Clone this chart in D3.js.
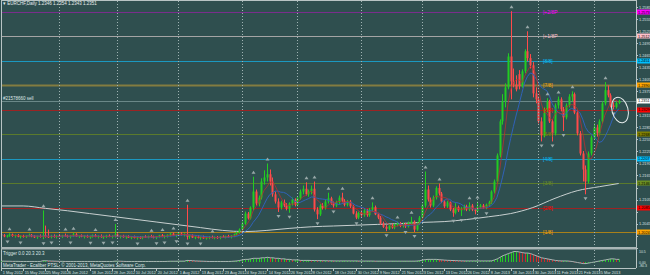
<!DOCTYPE html>
<html>
<head>
<meta charset="utf-8">
<script src="https://cdn.jsdelivr.net/npm/d3@7"></script>
<style>
  html, body { margin: 0; padding: 0; background: #2f4f4f; }
  svg { display: block; }
</style>
</head>
<body>
<div id="chart"></div>
<script>
const width = 650;
const height = 275;

// ---- data ----
// daily candles [open, high, low, close], 1 May 2012 .. 7 Mar 2013
const candles = [
  [1.2018,1.2022,1.2013,1.2016],[1.2016,1.2019,1.2011,1.2013],[1.2013,1.2017,1.2010,1.2015],[1.2015,1.2021,1.2012,1.2018],
  [1.2018,1.2020,1.2012,1.2014],[1.2014,1.2018,1.2010,1.2016],[1.2016,1.2019,1.2011,1.2012],[1.2012,1.2016,1.2008,1.2014],
  [1.2014,1.2017,1.2010,1.2012],[1.2012,1.2016,1.2009,1.2015],[1.2015,1.2020,1.2012,1.2017],[1.2017,1.2019,1.2011,1.2013],
  [1.2013,1.2016,1.2009,1.2011],[1.2011,1.2015,1.2007,1.2014],[1.2014,1.2018,1.2010,1.2012],[1.2012,1.2078,1.2006,1.2016],
  [1.2016,1.2040,1.2010,1.2013],[1.2013,1.2030,1.2009,1.2011],[1.2011,1.2017,1.2008,1.2014],[1.2014,1.2018,1.2010,1.2012],
  [1.2012,1.2016,1.2008,1.2015],[1.2015,1.2019,1.2011,1.2013],[1.2013,1.2017,1.2009,1.2016],[1.2016,1.2020,1.2012,1.2014],
  [1.2014,1.2017,1.2010,1.2012],[1.2012,1.2016,1.2008,1.2015],[1.2015,1.2022,1.2012,1.2018],[1.2018,1.2021,1.2012,1.2013],
  [1.2013,1.2016,1.2009,1.2015],[1.2015,1.2018,1.2011,1.2012],[1.2012,1.2016,1.2008,1.2014],[1.2014,1.2017,1.2010,1.2011],
  [1.2011,1.2015,1.2007,1.2013],[1.2013,1.2018,1.2010,1.2016],[1.2016,1.2019,1.2011,1.2012],[1.2012,1.2016,1.2008,1.2014],
  [1.2014,1.2018,1.2010,1.2011],[1.2011,1.2015,1.2007,1.2013],[1.2013,1.2017,1.2009,1.2015],[1.2015,1.2018,1.2011,1.2012],
  [1.2012,1.2016,1.2008,1.2014],[1.2014,1.2044,1.2010,1.2018],[1.2018,1.2021,1.2011,1.2012],[1.2012,1.2016,1.2008,1.2014],
  [1.2014,1.2017,1.2010,1.2011],[1.2011,1.2015,1.2007,1.2013],[1.2013,1.2016,1.2009,1.2010],[1.2010,1.2014,1.2006,1.2012],
  [1.2012,1.2015,1.2008,1.2009],[1.2009,1.2013,1.2005,1.2011],[1.2011,1.2014,1.2007,1.2010],[1.2010,1.2014,1.2006,1.2013],
  [1.2013,1.2016,1.2009,1.2011],[1.2011,1.2015,1.2008,1.2014],[1.2014,1.2017,1.2010,1.2012],[1.2012,1.2015,1.2008,1.2010],
  [1.2010,1.2014,1.2006,1.2013],[1.2013,1.2017,1.2010,1.2016],[1.2016,1.2019,1.2011,1.2012],[1.2012,1.2016,1.2008,1.2014],
  [1.2014,1.2018,1.2010,1.2017],[1.2017,1.2022,1.2013,1.2020],[1.2020,1.2023,1.2014,1.2015],[1.2015,1.2019,1.2011,1.2018],
  [1.2018,1.2022,1.2014,1.2020],[1.2020,1.2024,1.2015,1.2017],[1.2017,1.2021,1.2013,1.2019],[1.2019,1.2092,1.2005,1.2012],
  [1.2012,1.2018,1.2007,1.2015],[1.2015,1.2018,1.2009,1.2010],[1.2010,1.2014,1.2006,1.2012],[1.2012,1.2016,1.2008,1.2009],
  [1.2009,1.2013,1.2005,1.2011],[1.2011,1.2015,1.2007,1.2008],[1.2008,1.2012,1.2005,1.2010],[1.2010,1.2014,1.2006,1.2012],
  [1.2012,1.2015,1.2008,1.2009],[1.2009,1.2013,1.2006,1.2011],[1.2011,1.2014,1.2007,1.2010],[1.2010,1.2014,1.2006,1.2013],
  [1.2013,1.2016,1.2009,1.2011],[1.2011,1.2015,1.2008,1.2014],[1.2014,1.2017,1.2010,1.2012],[1.2012,1.2016,1.2008,1.2015],
  [1.2015,1.2020,1.2011,1.2018],[1.2018,1.2025,1.2015,1.2022],[1.2022,1.2033,1.2019,1.2030],[1.2030,1.2050,1.2026,1.2045],
  [1.2045,1.2075,1.2042,1.2070],[1.2070,1.2074,1.2055,1.2058],[1.2058,1.2088,1.2055,1.2085],[1.2085,1.2162,1.2078,1.2125],
  [1.2125,1.2130,1.2090,1.2095],[1.2095,1.2115,1.2088,1.2110],[1.2110,1.2158,1.2105,1.2150],[1.2150,1.2178,1.2142,1.2160],
  [1.2160,1.2195,1.2150,1.2168],[1.2168,1.2180,1.2140,1.2150],[1.2150,1.2160,1.2112,1.2118],[1.2118,1.2125,1.2095,1.2100],
  [1.2100,1.2108,1.2074,1.2085],[1.2085,1.2102,1.2080,1.2098],[1.2098,1.2105,1.2086,1.2090],[1.2090,1.2096,1.2078,1.2082],
  [1.2082,1.2098,1.2072,1.2095],[1.2095,1.2110,1.2090,1.2105],[1.2105,1.2108,1.2088,1.2092],[1.2092,1.2112,1.2088,1.2108],
  [1.2108,1.2130,1.2104,1.2125],[1.2125,1.2140,1.2118,1.2132],[1.2132,1.2148,1.2115,1.2118],[1.2118,1.2130,1.2112,1.2125],
  [1.2125,1.2140,1.2118,1.2132],[1.2132,1.2150,1.2075,1.2080],[1.2080,1.2086,1.2056,1.2068],[1.2068,1.2094,1.2064,1.2090],
  [1.2090,1.2096,1.2080,1.2084],[1.2084,1.2104,1.2080,1.2100],[1.2100,1.2122,1.2095,1.2108],[1.2108,1.2112,1.2092,1.2096],
  [1.2096,1.2100,1.2085,1.2090],[1.2090,1.2102,1.2086,1.2098],[1.2098,1.2115,1.2094,1.2110],[1.2110,1.2122,1.2098,1.2102],
  [1.2102,1.2106,1.2088,1.2092],[1.2092,1.2104,1.2088,1.2100],[1.2100,1.2104,1.2084,1.2088],[1.2088,1.2092,1.2068,1.2070],
  [1.2070,1.2076,1.2056,1.2060],[1.2060,1.2075,1.2056,1.2072],[1.2072,1.2078,1.2062,1.2066],[1.2066,1.2082,1.2062,1.2078],
  [1.2078,1.2082,1.2062,1.2066],[1.2066,1.2084,1.2062,1.2080],[1.2080,1.2098,1.2076,1.2086],[1.2086,1.2090,1.2066,1.2068],
  [1.2068,1.2072,1.2056,1.2060],[1.2060,1.2064,1.2042,1.2045],[1.2045,1.2050,1.2034,1.2037],[1.2037,1.2042,1.2026,1.2032],
  [1.2032,1.2044,1.2029,1.2040],[1.2040,1.2045,1.2032,1.2035],[1.2035,1.2045,1.2031,1.2042],[1.2042,1.2050,1.2038,1.2046],
  [1.2046,1.2049,1.2036,1.2039],[1.2039,1.2047,1.2035,1.2044],[1.2044,1.2047,1.2034,1.2038],[1.2038,1.2050,1.2035,1.2046],
  [1.2046,1.2062,1.2042,1.2050],[1.2050,1.2053,1.2024,1.2030],[1.2030,1.2048,1.2027,1.2045],[1.2045,1.2064,1.2042,1.2060],
  [1.2060,1.2095,1.2056,1.2090],[1.2090,1.2175,1.2085,1.2130],[1.2130,1.2140,1.2100,1.2105],[1.2105,1.2110,1.2085,1.2090],
  [1.2090,1.2115,1.2086,1.2110],[1.2110,1.2138,1.2105,1.2134],[1.2134,1.2145,1.2115,1.2120],[1.2120,1.2124,1.2096,1.2100],
  [1.2100,1.2104,1.2084,1.2088],[1.2088,1.2102,1.2084,1.2098],[1.2098,1.2100,1.2076,1.2080],[1.2080,1.2084,1.2062,1.2072],
  [1.2072,1.2096,1.2068,1.2086],[1.2086,1.2090,1.2074,1.2078],[1.2078,1.2086,1.2064,1.2082],[1.2082,1.2092,1.2078,1.2088],
  [1.2088,1.2092,1.2076,1.2080],[1.2080,1.2098,1.2076,1.2090],[1.2090,1.2094,1.2076,1.2080],[1.2080,1.2084,1.2068,1.2076],
  [1.2076,1.2100,1.2072,1.2086],[1.2086,1.2094,1.2082,1.2090],[1.2090,1.2094,1.2082,1.2085],[1.2085,1.2095,1.2081,1.2092],
  [1.2092,1.2102,1.2088,1.2098],[1.2098,1.2128,1.2094,1.2125],[1.2125,1.2155,1.2120,1.2150],[1.2150,1.2220,1.2145,1.2215],
  [1.2215,1.2305,1.2210,1.2300],[1.2300,1.2368,1.2292,1.2350],[1.2350,1.2395,1.2335,1.2385],[1.2385,1.2470,1.2380,1.2462],
  [1.2462,1.2575,1.2355,1.2400],[1.2400,1.2432,1.2385,1.2392],[1.2392,1.2415,1.2375,1.2380],[1.2418,1.2428,1.2380,1.2388],
  [1.2388,1.2430,1.2384,1.2425],[1.2425,1.2480,1.2420,1.2475],[1.2475,1.2525,1.2450,1.2458],[1.2458,1.2468,1.2432,1.2440],
  [1.2440,1.2448,1.2360,1.2370],[1.2370,1.2385,1.2345,1.2355],[1.2355,1.2362,1.2295,1.2300],[1.2300,1.2310,1.2250,1.2265],
  [1.2265,1.2335,1.2260,1.2330],[1.2330,1.2358,1.2322,1.2350],[1.2350,1.2354,1.2296,1.2300],[1.2300,1.2305,1.2250,1.2270],
  [1.2270,1.2345,1.2265,1.2340],[1.2340,1.2362,1.2332,1.2355],[1.2355,1.2360,1.2325,1.2330],[1.2330,1.2336,1.2276,1.2310],
  [1.2310,1.2345,1.2305,1.2340],[1.2340,1.2368,1.2335,1.2362],[1.2362,1.2375,1.2350,1.2368],[1.2368,1.2372,1.2318,1.2322],
  [1.2322,1.2328,1.2265,1.2270],[1.2270,1.2276,1.2215,1.2220],[1.2220,1.2226,1.2150,1.2180],[1.2180,1.2190,1.2118,1.2150],
  [1.2150,1.2225,1.2145,1.2220],[1.2220,1.2265,1.2215,1.2260],[1.2260,1.2295,1.2255,1.2285],[1.2285,1.2292,1.2262,1.2270],
  [1.2270,1.2305,1.2265,1.2300],[1.2300,1.2350,1.2295,1.2345],[1.2345,1.2398,1.2340,1.2378],[1.2378,1.2390,1.2360,1.2365],
  [1.2365,1.2370,1.2335,1.2340],[1.2340,1.2348,1.2330,1.2336],[1.2336,1.2350,1.2332,1.2346],[1.2346,1.2354,1.2343,1.2351]
];

// long moving average (white), read every 8 bars
const longMaBars = [0,8,16,24,32,40,48,56,64,72,80,88,96,104,112,120,128,136,144,152,160,168,176,184,192,200,208,216,223];
const longMaValues = [1.2089,1.2089,1.2083,1.2077,1.2070,1.2063,1.2056,1.2049,1.2042,1.2035,1.2028,1.2025,1.2028,1.2033,
  1.2037,1.2039,1.2041,1.2043,1.2045,1.2048,1.2050,1.2055,1.2062,1.2070,1.2085,1.2108,1.2127,1.2137,1.2145];

// sub-window "Trigger" histogram
const trigger = [
  0.8,0.8,0.7,0.7,0.6,0.6,0.6,0.5,0.5,0.5, 0.5,0.5,0.5,0.5,0.5,1.2,1.2,1,0.9,0.8,
  0.7,0.6,0.6,0.5,0.5,0.5,0.5,0.5,0.5,0.5, 0.5,0.5,0.5,0.5,0.5,0.5,0.5,0.5,0.5,0.5,
  0.5,0.8,0.8,0.7,0.6,0.5,0.5,0.5,0.5,0.5, 0.5,0.5,0.5,0.5,0.5,0.5,0.5,0.5,0.5,0.5,
  0.6,0.7,0.7,0.7,0.8,0.8,0.8,1.5,1.4,1.2, 1,0.9,0.8,0.7,0.6,0.5,0.5,0.5,0.5,0.5,
  0.5,0.5,0.5,0.6,
  0.8,1,1.5,2,2.5,2.5,3,3.5,3.5,3.5, 4,4,4.5,4,4,3.5,3.5,3,3,2.5, 2.5,2,2,2,1.5,1.5,1.5,
  1.5,1.4,1.4,1.3,1.3,1.2,1.2,1.1,1.1,1, 1,1,1,1,1,1,1,1,0.9,0.9,
  0.9,0.9,0.9,0.9,0.8,0.8,0.8,0.8,0.8,0.8, 0.8,0.8,0.8,0.8,0.8,0.8,0.8,0.8,0.8,0.9,
  1.2,1.8,2.3,2.5,2.5,2.5,2.5,2.2,2,1.8, 1.6,1.5,1.4,1.3,1.2,1.1,1,1,1,1, 1,1,1,1,1,1,1.1,
  2,3,4.5,6,7,8,9,10,10,9.5, 9,8.5,8.5,8,7,6,5,4,3.5,3, 2.5,2,1.5,1.2,1,1,1,0.8,
  0.5,0,-0.5,-1,-1.5,-1.5,-1,-0.5,0,0.5, 1,1.5,2,2.5,3,3,2.5,2.5
];

// Murrey math levels
const levelNames  = ["|+2/8P", "|+1/8P", "[8/8]", "[7/8]", "[6/8]", "[5/8]", "[4/8]", "[3/8]", "[2/8]", "[1/8]"];
const levelPrices = [1.2573, 1.2512, 1.2451, 1.2390, 1.2329, 1.2268, 1.2207, 1.2146, 1.2085, 1.2024];
const levelLineColors = ["#7a2e8c", "#a4a4a4", "#1b98c0", "#837c40", "#9c2323", "#5a7a2c", "#1b98c0", "#5a7a2c", "#9c2323", "#a8801a"];
const levelTagColors  = ["#ff00ff", "#ffc0cb", "#00bfff", "#ffa500", "#ff0000", "#808000", "#00bfff", "#6b8e23", "#ff0000", "#ffa500"];

const priceTicks = [1.2585,1.2555,1.2525,1.2495,1.2465,1.2435,1.2405,1.2375,1.2345,1.2315,1.2285,
  1.2255,1.2225,1.2195,1.2165,1.2135,1.2105,1.2075,1.2045,1.2015,1.1985];

const dateLabels = ["1 May 2012","15 May 2012","25 May 2012","6 Jun 2012","18 Jun 2012","28 Jun 2012","10 Jul 2012",
  "20 Jul 2012","1 Aug 2012","13 Aug 2012","23 Aug 2012","4 Sep 2012","14 Sep 2012","26 Sep 2012","8 Oct 2012",
  "18 Oct 2012","30 Oct 2012","9 Nov 2012","21 Nov 2012","3 Dec 2012","13 Dec 2012","26 Dec 2012","8 Jan 2013",
  "18 Jan 2013","30 Jan 2013","11 Feb 2013","21 Feb 2013","5 Mar 2013"];
const monthStarts = [21, 42, 64, 87, 107, 130, 152, 172, 194, 214];

const subLabels = ["10.5", "0.00", "-80.3"];
const subLabelValues = [10, 0, -3.5];

const orderLabel = "#21578660 sell";
const orderPrice = 1.2351;

// ---- layout ----
const plotRight = 636;
const mainBottom = 247;
const subBottom = 268;

const svg = d3.select("#chart").append("svg")
  .attr("width", width).attr("height", height)
  .style("font-family", "'Liberation Sans', Arial, sans-serif");

svg.append("rect").attr("width", width).attr("height", height).attr("fill", "#2f4f4f");

const x = d3.scaleLinear().domain([0, 229]).range([1, 1 + 2.77 * 229]);
const y = d3.scaleLinear().domain([1.2024, 1.2573]).range([232, 12]);
const yT = d3.scaleLinear().domain([0, 10]).range([262, 251.5]);

svg.append("clipPath").attr("id", "mainClip")
  .append("rect").attr("x", 2).attr("y", 0).attr("width", plotRight - 2).attr("height", mainBottom);

const main = svg.append("g").attr("clip-path", "url(#mainClip)");

// month separators
svg.selectAll(".vgrid").data(monthStarts).enter().append("line")
  .attr("x1", d => Math.round(x(d)) + 0.5).attr("x2", d => Math.round(x(d)) + 0.5)
  .attr("y1", 1).attr("y2", subBottom)
  .attr("stroke", "#9fb3b3").attr("stroke-width", 1).attr("stroke-dasharray", "1,2");

// Murrey lines
levelPrices.forEach((p, i) => {
  main.append("line")
    .attr("x1", 2).attr("x2", plotRight)
    .attr("y1", Math.round(y(p)) + 0.5).attr("y2", Math.round(y(p)) + 0.5)
    .attr("stroke", levelLineColors[i])
    .attr("stroke-width", i === 3 ? 2 : 1);
});

// order line
main.append("line")
  .attr("x1", 2).attr("x2", plotRight)
  .attr("y1", Math.round(y(orderPrice)) + 0.5).attr("y2", Math.round(y(orderPrice)) + 0.5)
  .attr("stroke", "#6a8888").attr("stroke-width", 1);
svg.append("text").attr("x", 3).attr("y", Math.round(y(orderPrice)) - 1)
  .attr("font-size", 4.5).attr("fill", "#dfe8e8").text(orderLabel);

// moving averages
const closes = candles.map(d => d[3]);
function sma(period) {
  return closes.map((c, i) => i < period - 1 ? null : d3.mean(closes.slice(i - period + 1, i + 1)));
}
const maLine = d3.line().defined(d => d[1] != null).x(d => x(d[0])).y(d => y(d[1]));

main.append("path")
  .attr("d", d3.line().curve(d3.curveMonotoneX).x((d, i) => x(longMaBars[i])).y(d => y(d))(longMaValues))
  .attr("fill", "none").attr("stroke", "#c8d0d0").attr("stroke-width", 1);

// candles
const bull = "#22cc22", bear = "#ff4a4a";
const cg = main.append("g");
candles.forEach((c, i) => {
  const [o, h, l, cl] = c;
  const col = cl >= o ? bull : bear;
  const cx = Math.round(x(i));
  cg.append("line")
    .attr("x1", cx + 0.5).attr("x2", cx + 0.5)
    .attr("y1", y(h)).attr("y2", y(l))
    .attr("stroke", col).attr("stroke-width", 1);
  const top = y(Math.max(o, cl)), bot = y(Math.min(o, cl));
  cg.append("rect")
    .attr("x", cx - 0.5).attr("y", top)
    .attr("width", 2).attr("height", Math.max(1, bot - top))
    .attr("fill", col);
});

main.append("path").datum(sma(10).map((v, i) => [i, v]))
  .attr("d", maLine).attr("fill", "none").attr("stroke", "#2f62b8").attr("stroke-width", 1);
main.append("path").datum(sma(5).map((v, i) => [i, v]))
  .attr("d", maLine).attr("fill", "none").attr("stroke", "#b83030").attr("stroke-width", 0.8);

// fractals
const highs = candles.map(d => d[1]), lows = candles.map(d => d[2]);
const ups = [], downs = [];
for (let i = 2; i < candles.length - 2; i++) {
  if (highs[i] > highs[i - 1] && highs[i] > highs[i - 2] && highs[i] >= highs[i + 1] && highs[i] >= highs[i + 2]) ups.push(i);
  if (lows[i] < lows[i - 1] && lows[i] < lows[i - 2] && lows[i] <= lows[i + 1] && lows[i] <= lows[i + 2]) downs.push(i);
}
main.selectAll(".fup").data(ups).enter().append("path")
  .attr("d", i => {
    const cx = Math.round(x(i)) + 0.5, yy = y(highs[i]) - 3;
    return `M${cx - 2},${yy} L${cx},${yy - 3} L${cx + 2},${yy} Z`;
  })
  .attr("fill", "#98a8a8");
main.selectAll(".fdn").data(downs).enter().append("path")
  .attr("d", i => {
    const cx = Math.round(x(i)) + 0.5, yy = y(lows[i]) + 3;
    return `M${cx - 2},${yy} L${cx},${yy + 3} L${cx + 2},${yy} Z`;
  })
  .attr("fill", "#98a8a8");

// Murrey labels inside chart
levelPrices.forEach((p, i) => {
  main.append("text")
    .attr("x", 543).attr("y", y(p) + 2)
    .attr("font-size", 5).attr("fill", levelTagColors[i])
    .text(levelNames[i]);
});

// hand drawn ellipse
main.append("ellipse")
  .attr("cx", 620).attr("cy", 110).attr("rx", 8).attr("ry", 13)
  .attr("transform", "rotate(-15,620,110)")
  .attr("fill", "none").attr("stroke", "#e8eeee").attr("stroke-width", 1);

// header
const last = candles[candles.length - 1];
svg.append("text").attr("x", 3).attr("y", 5)
  .attr("font-size", 4.5).attr("fill", "#e8eeee")
  .text(`▾ EURCHF,Daily  ${last.map(v => v.toFixed(4)).join(" ")}`);

// frame
svg.append("line").attr("x1", 1.5).attr("x2", 1.5).attr("y1", 0).attr("y2", subBottom).attr("stroke", "#b8c4c4");
svg.append("line").attr("x1", 1).attr("x2", plotRight).attr("y1", 0.5).attr("y2", 0.5).attr("stroke", "#b8c4c4");
svg.append("line").attr("x1", plotRight + 0.5).attr("x2", plotRight + 0.5).attr("y1", 0).attr("y2", subBottom).attr("stroke", "#b8c4c4");
svg.append("rect").attr("x", 1).attr("y", mainBottom).attr("width", plotRight).attr("height", 2.5).attr("fill", "#aab6b6");
svg.append("line").attr("x1", 1).attr("x2", plotRight).attr("y1", subBottom + 0.5).attr("y2", subBottom + 0.5).attr("stroke", "#b8c4c4");

// price axis (tick labels hidden where a level tag sits)
const tags = levelPrices.map((p, i) => ({ p, col: levelTagColors[i] }))
  .concat([{ p: orderPrice, col: "#ffffff" }]);
const freeTicks = priceTicks.filter(t => tags.every(g => Math.abs(y(g.p) - y(t)) > 4.5) && y(t) < mainBottom - 2);
svg.selectAll(".ptick").data(freeTicks).enter().append("text")
  .attr("x", 639).attr("y", d => y(d) + 1.5)
  .attr("font-size", 3.8).attr("fill", "#d8e0e0")
  .text(d => d.toFixed(4));
svg.selectAll(".ptickm").data(priceTicks).enter().append("line")
  .attr("x1", plotRight).attr("x2", plotRight + 2)
  .attr("y1", d => Math.round(y(d)) + 0.5).attr("y2", d => Math.round(y(d)) + 0.5)
  .attr("stroke", "#b8c4c4");

tags.forEach(t => {
  svg.append("rect").attr("x", plotRight + 1).attr("y", Math.round(y(t.p)) - 2.5)
    .attr("width", 13).attr("height", 5).attr("fill", t.col);
  svg.append("text").attr("x", plotRight + 2).attr("y", y(t.p) + 1.5)
    .attr("font-size", 3.8).attr("fill", "#000").text(t.p.toFixed(4));
});

// sub window
const sub = svg.append("g");
sub.append("text").attr("x", 3).attr("y", 254.5).attr("font-size", 4.5).attr("fill", "#dfe8e8")
  .text("Trigger 0.0 20.3 20.3");
trigger.forEach((v, i) => {
  if (i >= candles.length) return;
  const prev = i > 0 ? trigger[i - 1] : v;
  const col = v >= prev ? "#22cc22" : "#cc2a2a";
  const cx = Math.round(x(i));
  sub.append("rect")
    .attr("x", cx).attr("width", 1)
    .attr("y", Math.min(yT(v), yT(0))).attr("height", Math.max(0.5, Math.abs(yT(v) - yT(0))))
    .attr("fill", col);
});
sub.append("path")
  .attr("d", d3.line().x((d, i) => x(i) + 0.5).y(d => yT(d))(trigger))
  .attr("fill", "none").attr("stroke", "#a9b4b4").attr("stroke-width", 1);
sub.append("text").attr("x", 3).attr("y", 266.5).attr("font-size", 4.5).attr("fill", "#dfe8e8")
  .text("MetaTrader - Ecaliber PTSL, © 2001-2013, MetaQuotes Software Corp.");
subLabels.forEach((t, i) => {
  sub.append("text").attr("x", 639).attr("y", yT(subLabelValues[i]) + 1.5)
    .attr("font-size", 3.5).attr("fill", "#d8e0e0").text(t);
});

// date axis
dateLabels.forEach((lab, k) => {
  const xi = Math.round(x(k * 8)) + 0.5;
  svg.append("line").attr("x1", xi).attr("x2", xi).attr("y1", subBottom).attr("y2", subBottom + 3).attr("stroke", "#b8c4c4");
  svg.append("text").attr("x", xi + 1.2).attr("y", 274).attr("font-size", 3.9).attr("fill", "#d8e0e0").text(lab);
});
</script>
</body>
</html>
